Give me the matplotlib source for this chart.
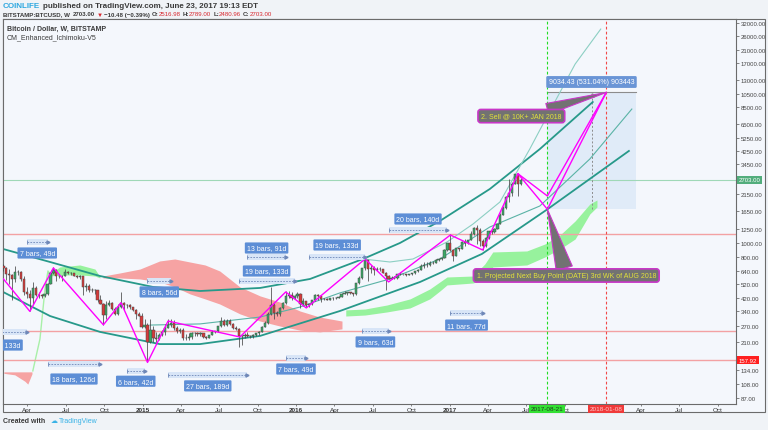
import numpy as np
import pandas as pd
import matplotlib
matplotlib.use("Agg")
import matplotlib.pyplot as plt
import matplotlib.dates as mdates
from matplotlib.patches import Rectangle
from matplotlib.ticker import FixedLocator, NullLocator, FixedFormatter

plt.rcParams["font.family"] = ["Liberation Sans", "DejaVu Sans"]

# --- weekly candles BITSTAMP:BTCUSD (W); open = previous close ---
first_week = "2014-02-03"
first_open = 700
closes = [
    670, 610, 600, 565, 630, 635, 565, 460, 445, 420, 495, 440, 440, 430, 445, 525,
    625, 650, 590, 595, 595, 635, 620, 618, 595, 585, 590, 500, 510, 478, 476, 477,
    410, 380, 320, 375, 390, 355, 325, 365, 390, 375, 378, 362, 350, 328, 318, 265,
    275, 210, 255, 225, 220, 235, 245, 262, 275, 285, 260, 248, 255, 225, 222, 226,
    240, 240, 238, 240, 228, 225, 235, 245, 248, 268, 290, 275, 290, 280, 262, 258,
    230, 230, 235, 230, 231, 233, 240, 246, 265, 285, 325, 375, 330, 325, 360, 390,
    435, 440, 420, 430,
    448, 385, 400, 375, 380, 405, 440, 430, 412, 415, 410, 417, 418, 420, 428, 450,
    455, 460, 455, 445, 530, 580, 670, 760, 665, 670, 650, 665, 660, 625, 590, 570,
    580, 575, 610, 610, 610, 605, 612, 618, 640, 655, 700, 705, 705, 735, 730, 765,
    775, 790, 890, 995,
    900, 820, 920, 915, 1010, 1000, 1050, 1150, 1270, 1235, 1025, 960, 1080, 1200,
    1180, 1245, 1350, 1550, 1740, 2050, 2200, 2540, 2950, 2516.98, 2703.00,
]
highs = [
    720, 690, 660, 610, 700, 650, 645, 590, 500, 480, 540, 510, 460, 450, 450, 530,
    630, 680, 660, 615, 600, 660, 640, 630, 625, 600, 600, 595, 530, 520, 490, 485,
    480, 440, 390, 400, 410, 395, 365, 380, 460, 395, 385, 380, 365, 355, 335, 330,
    300, 285, 300, 270, 245, 240, 255, 280, 300, 300, 295, 270, 260, 260, 238, 240,
    245, 245, 245, 245, 242, 232, 236, 252, 250, 270, 312, 300, 300, 300, 285, 272,
    260, 235, 240, 245, 235, 238, 242, 248, 270, 290, 335, 500, 390, 340, 365, 395,
    470, 470, 465, 440,
    462, 452, 420, 400, 385, 405, 445, 445, 438, 420, 422, 420, 425, 425, 430, 455,
    468, 465, 465, 455, 535, 590, 675, 780, 770, 705, 700, 680, 680, 665, 630, 600,
    590, 590, 615, 630, 615, 612, 615, 620, 645, 660, 720, 745, 740, 750, 750, 775,
    775, 795, 905, 1000,
    1150, 910, 930, 925, 1030, 1065, 1050, 1200, 1290, 1320, 1260, 1070, 1095, 1210,
    1225, 1260, 1350, 1600, 1800, 2100, 2750, 2600, 2980, 2990, 2789.00,
]
lows = [
    640, 560, 520, 410, 540, 600, 550, 440, 420, 340, 380, 430, 420, 420, 425, 440,
    525, 610, 550, 580, 550, 590, 610, 605, 590, 575, 570, 440, 470, 465, 465, 450,
    395, 380, 275, 300, 370, 350, 320, 320, 360, 345, 360, 355, 340, 300, 315, 260,
    260, 152, 205, 210, 210, 215, 230, 235, 260, 265, 255, 240, 240, 218, 215, 218,
    220, 230, 232, 232, 225, 220, 222, 233, 240, 245, 265, 270, 270, 275, 257, 255,
    195, 200, 225, 228, 225, 225, 230, 235, 245, 265, 280, 320, 300, 315, 315, 355,
    385, 420, 410, 415,
    420, 360, 370, 365, 365, 375, 400, 405, 395, 405, 405, 406, 410, 415, 420, 425,
    445, 440, 445, 435, 440, 525, 570, 655, 550, 620, 605, 640, 645, 620, 480, 565,
    565, 565, 570, 600, 600, 590, 600, 605, 615, 630, 655, 675, 690, 700, 720, 725,
    755, 770, 785, 885,
    880, 750, 815, 880, 910, 950, 990, 1040, 1140, 980, 960, 890, 935, 1060,
    1150, 1170, 1240, 1350, 1560, 1720, 1900, 2100, 2520, 2100, 2480.96,
]

# --- Ichimoku cloud edges ---
red_cloud_dates = ["2014-09-28", "2014-11-07", "2014-12-25", "2015-02-10", "2015-03-18",
                   "2015-04-23", "2015-05-29", "2015-07-03", "2015-08-20", "2015-10-07",
                   "2015-11-23", "2016-01-10", "2016-02-26", "2016-04-19"]
red_cloud_top = [594, 623, 663, 753, 777, 741, 707, 643, 500, 434, 394, 342, 311, 292]
red_cloud_bot = [576, 576, 567, 541, 500, 448, 414, 382, 327, 292, 270, 253, 246, 258]

green_cloud_dates = ["2016-04-28", "2016-06-13", "2016-08-04", "2016-09-28", "2016-11-14",
                     "2016-12-08", "2016-12-25", "2017-02-25", "2017-03-25", "2017-04-13",
                     "2017-07-03", "2017-08-15", "2017-09-20", "2017-10-26", "2017-11-30",
                     "2017-12-17"]
green_cloud_top = [348, 353, 376, 414, 484, 541, 585, 594, 718, 868, 882, 984, 1134, 1415, 1849, 1970]
green_cloud_bot = [316, 321, 337, 359, 414, 469, 516, 532, 567, 685, 707, 802, 910, 1065, 1580, 1764]

early_green_dates = ["2014-05-25", "2014-06-17", "2014-08-04", "2014-09-09", "2014-09-21"]
early_green_top = [613, 685, 707, 663, 585]
early_green_bot = [594, 604, 604, 594, 576]

early_red_dates = ["2014-02-04", "2014-03-02", "2014-03-26", "2014-04-02", "2014-04-12"]
early_red_top = [131, 131, 131, 131, 131]
early_red_bot = [128, 125, 113, 108, 127]

span_line_dates = ["2014-04-14", "2014-05-01", "2014-05-13", "2014-05-20", "2014-05-25"]
span_line_prices = [133, 220, 484, 643, 613]

# --- levels and markers ---
last_price = 2703.00
red_levels = [1150, 250, 157.92]
buy_date, buy_price = "2017-08-21", 1701.3
sell_date, sell_price = "2018-01-08", 10735.7
range_end = "2018-03-19"
range_text = "9034.43 (531.04%) 903443"

zig_dates = ["2014-02-03", "2014-04-07", "2014-06-02", "2014-09-29", "2014-11-10",
             "2015-01-12", "2015-03-02", "2015-08-20", "2015-12-07", "2016-01-25",
             "2016-06-13", "2016-08-08", "2017-01-02", "2017-03-20", "2017-06-12",
             "2017-08-21", "2018-01-08"]
zig_prices = [567, 340, 675, 275, 390, 152, 292, 227, 462, 359, 777, 541, 1134, 895,
              2980, 2098, 10735.7]
zig2_dates = ["2017-06-12", "2017-08-21", "2018-01-08"]
zig2_prices = [2980, 1701.3, 10735.7]

# --- arcs ---
arc1_dates = ["2014-02-02", "2014-05-25", "2014-09-21", "2015-01-25", "2015-05-17",
              "2015-10-07", "2016-02-03", "2016-06-08", "2016-09-04", "2016-12-08",
              "2017-04-06", "2017-08-03", "2017-12-07"]
arc1_prices = [910, 741, 594, 500, 469, 492, 567, 777, 1000, 1415, 2344, 4400, 9240]
arc2_dates = ["2014-02-02", "2014-05-25", "2014-09-21", "2015-02-10", "2015-05-17",
              "2015-10-07", "2016-04-14", "2016-10-22", "2017-03-18", "2017-08-21",
              "2018-03-03"]
arc2_prices = [462, 316, 246, 203, 203, 231, 342, 541, 841, 1701.3, 4270]
arc3_dates = ["2015-01-18", "2015-05-17", "2015-10-07", "2016-01-10", "2016-04-14",
              "2016-08-11", "2016-12-08", "2017-04-06", "2017-08-03", "2017-11-30",
              "2018-03-10"]
arc3_prices = [274, 279, 311, 364, 455, 567, 777, 1287, 1792, 3760, 8270]
arc4_dates = ["2016-06-08", "2016-08-11", "2016-10-05", "2016-12-25", "2017-02-25",
              "2017-04-30", "2017-07-10", "2017-08-27", "2017-10-26", "2017-12-26"]
arc4_prices = [777, 741, 777, 1016, 1349, 1909, 4400, 8020, 16800, 29200]

# --- bar-count measurements ---
range_labels = ["7 bars, 49d", "19 bars, 133d", "18 bars, 126d", "6 bars, 42d",
                "8 bars, 56d", "27 bars, 189d", "19 bars, 133d", "13 bars, 91d",
                "7 bars, 49d", "19 bars, 133d", "9 bars, 63d", "20 bars, 140d",
                "11 bars, 77d"]
range_starts = ["2014-03-31", "2013-11-18", "2014-05-19", "2014-11-24", "2015-01-12",
                "2015-03-02", "2015-08-17", "2015-09-07", "2015-12-07", "2016-02-01",
                "2016-06-06", "2016-08-08", "2017-01-02"]
range_bars = [7, 19, 18, 6, 8, 27, 19, 13, 7, 19, 9, 20, 11]
range_arrow_prices = [1016, 246, 148, 133, 549, 125, 549, 802, 163, 802, 249, 1228, 332]
range_label_prices = [854, 200, 117, 113, 462, 105, 643, 924, 137, 969, 210, 1460, 274]

yticks = [32000, 26000, 21000, 17000, 13000, 10500, 8500, 6500, 5250, 4250, 3450,
          2150, 1650, 1250, 1000, 800, 640, 520, 420, 340, 270, 210, 134, 108, 87]
xtick_dates = ["2014-04-01", "2014-07-01", "2014-10-01", "2015-01-01", "2015-04-01",
               "2015-07-01", "2015-10-01", "2016-01-01", "2016-04-01", "2016-07-01",
               "2016-10-01", "2017-01-01", "2017-04-01", "2017-07-01", "2017-10-01",
               "2018-04-01", "2018-07-01", "2018-10-01"]
xtick_labels = ["Apr", "Jul", "Oct", "2015", "Apr", "Jul", "Oct", "2016", "Apr", "Jul",
                "Oct", "2017", "Apr", "Jul", "Oct", "Apr", "Jul", "Oct"]

# ---------------------------------------------------------------------------
W, H = 768, 431
fig = plt.figure(figsize=(W / 100, H / 100), dpi=100, facecolor="#f0f3f7")
BG = "#f4f7fc"
DARK = "#3a3a3a"
RED = "#d8262d"

fig.patches.append(Rectangle((3 / W, 1 - 413 / H), 762 / W, 393 / H, transform=fig.transFigure,
                             facecolor=BG, edgecolor="#6b6b6b", lw=0.8, zorder=-5))
ax = fig.add_axes([3 / W, 1 - 405 / H, 733 / W, 385 / H])
ax.set_zorder(1)
ax.set_facecolor(BG)
for s in ax.spines.values():
    s.set_color("#6b6b6b")
    s.set_linewidth(0.8)

d = mdates.datestr2num

# clouds
ax.fill_between(d(red_cloud_dates), red_cloud_bot, red_cloud_top, color="#f6a3a3", lw=0, zorder=1)
ax.fill_between(d(green_cloud_dates), green_cloud_bot, green_cloud_top, color="#97f29d", lw=0, zorder=1)
ax.fill_between(d(early_green_dates), early_green_bot, early_green_top, color="#97f29d", lw=0, zorder=1)
ax.fill_between(d(early_red_dates), early_red_bot, early_red_top, color="#f6a3a3", lw=0, zorder=1)
ax.plot(d(span_line_dates), span_line_prices, color="#a8f0a8", lw=1.0, zorder=1)

# projection range box
rs, re_ = d(buy_date), d(range_end)
rm = (rs + re_) / 2
ax.fill_between([rs, re_], buy_price, sell_price, color="#dce9f8", alpha=0.8, lw=0, zorder=0.8)
ax.plot([rs, re_], [sell_price, sell_price], color="#8c8c8c", lw=0.8, zorder=2)
ax.plot([rm, rm], [buy_price, sell_price * 0.97], color="#8c8c8c", lw=0.7, ls=(0, (2, 2)), zorder=2)
ax.plot([rm], [sell_price * 0.965], marker="^", ms=2.5, color="#8c8c8c", zorder=2)
ax.text(rm, 12670, range_text, ha="center", va="center", fontsize=5, color="white", zorder=7,
        bbox=dict(boxstyle="round,pad=0.35,rounding_size=0.2", fc="#6a95d6", ec="none"))

# levels
ax.axhline(last_price, color="#9fd8b7", lw=0.8, zorder=1.5)
for lv in red_levels:
    ax.axhline(lv, color="#f3a1a3", lw=1.0, zorder=1.5)
ax.axvline(d(buy_date), color="#22dd22", lw=0.8, ls=(0, (2.5, 2)), zorder=2)
ax.axvline(d(sell_date), color="#f24848", lw=0.8, ls=(0, (2.5, 2)), zorder=2)

# arcs
ax.plot(d(arc1_dates), arc1_prices, color="#27998a", lw=1.3, zorder=2)
ax.plot(d(arc2_dates), arc2_prices, color="#27998a", lw=1.3, zorder=2)
ax.plot(d(arc3_dates), arc3_prices, color="#5ab3a6", lw=0.8, zorder=2)
ax.plot(d(arc4_dates), arc4_prices, color="#8ccfc3", lw=0.8, zorder=2)

# candles
weeks = pd.date_range(first_week, periods=len(closes), freq="7D")
xw = mdates.date2num(weeks)
c = np.array(closes, float)
o = np.array([first_open] + closes[:-1], float)
cols = np.where(c >= o, "#3aa866", "#d63b3b")
ax.vlines(xw, lows, highs, colors="#474747", lw=0.55, zorder=3)
ax.bar(xw, np.abs(c - o), bottom=np.minimum(c, o), width=5.4, color=cols,
       edgecolor="#474747", linewidth=0.35, zorder=3.1)

# zigzag
ax.plot(d(zig_dates), zig_prices, color="#ff00ff", lw=1.0, zorder=4)
ax.plot(d(zig2_dates), zig2_prices, color="#ff00ff", lw=1.0, zorder=4)

# bar-count measurements
for lab, st, nb, pa, pl in zip(range_labels, range_starts, range_bars,
                               range_arrow_prices, range_label_prices):
    s0 = d(st)
    s1 = s0 + 7 * nb
    ax.fill_between([s0, s1], pa / 1.05, pa * 1.05, color="#d8e5f7", lw=0, zorder=4.5)
    ax.plot([s0, s1], [pa, pa], color="#6f88b8", lw=0.6, ls=(0, (2, 1.5)), zorder=5)
    ax.plot([s0], [pa], marker="|", ms=3, mew=0.6, color="#6f88b8", zorder=5)
    ax.plot([s1], [pa], marker=">", ms=2.2, color="#6f88b8", zorder=5)
    ax.text((s0 + s1) / 2, pl, lab, ha="center", va="center", fontsize=5, color="white",
            zorder=6, clip_on=True,
            bbox=dict(boxstyle="round,pad=0.3,rounding_size=0.15", fc="#5d8ed6", ec="none"))

# callouts
call_kw = dict(ha="center", va="center", fontsize=5, color="#e2e23a", zorder=8,
               bbox=dict(boxstyle="round,pad=0.45,rounding_size=0.4", fc="#727272", ec="#c837c8", lw=1.2))
ax.annotate("2. Sell @ 10K+ JAN 2018", xy=(d(sell_date), sell_price),
            xytext=(d("2017-06-20"), 7400),
            arrowprops=dict(arrowstyle="wedge,tail_width=1.6,shrink_factor=0.5", fc="#727272",
                            ec="#c837c8", lw=0.8, shrinkA=0, shrinkB=0), **call_kw)
ax.annotate("1. Projected Next Buy Point (DATE) 3rd WK of AUG 2018", xy=(d(buy_date), buy_price),
            xytext=(d("2017-10-05"), 599),
            arrowprops=dict(arrowstyle="wedge,tail_width=2.4,shrink_factor=0.5", fc="#727272",
                            ec="#c837c8", lw=0.8, shrinkA=0, shrinkB=0), **call_kw)

# axes
ax.set_yscale("log")
ax.set_ylim(78.9, 34220)
ax.set_xlim(d("2014-02-02"), d("2018-11-13"))
ax.yaxis.tick_right()
ax.yaxis.set_major_locator(FixedLocator(yticks))
ax.yaxis.set_major_formatter(FixedFormatter(["%.2f" % v for v in yticks]))
ax.yaxis.set_minor_locator(NullLocator())
ax.tick_params(axis="y", length=2, width=0.5, color="#555", labelsize=4.3, pad=1.5, labelcolor="#444")
ax.xaxis.set_major_locator(FixedLocator(d(xtick_dates)))
ax.xaxis.set_major_formatter(FixedFormatter(xtick_labels))
ax.xaxis.set_minor_locator(NullLocator())
ax.tick_params(axis="x", length=1.5, width=0.5, color="#555", labelsize=4.6, pad=0.8, labelcolor="#333")
for t in ax.get_xticklabels():
    if t.get_text().isdigit():
        t.set_fontweight("bold")

ytr = ax.get_yaxis_transform()
ax.text(1.004, last_price, "%.2f" % last_price, transform=ytr, ha="left", va="center", fontsize=4.3,
        color="white", clip_on=False, zorder=9,
        bbox=dict(boxstyle="square,pad=0.25", fc="#52ad7c", ec="none"))
ax.text(1.004, red_levels[2], "%.2f" % red_levels[2], transform=ytr, ha="left", va="center",
        fontsize=4.3, color="white", clip_on=False, zorder=9,
        bbox=dict(boxstyle="square,pad=0.25", fc="#ff2020", ec="none"))
xtr = ax.get_xaxis_transform()
ax.text(d(buy_date), -0.012, buy_date, transform=xtr, ha="center", va="center", fontsize=4.6,
        color="#1f3a1f", clip_on=False, zorder=9,
        bbox=dict(boxstyle="square,pad=0.25", fc="#33e033", ec="none"))
ax.text(d(sell_date), -0.012, sell_date, transform=xtr, ha="center", va="center", fontsize=4.6,
        color="#ffc8c8", clip_on=False, zorder=9,
        bbox=dict(boxstyle="square,pad=0.25", fc="#f03a3a", ec="none"))

ax.text(4 / 733, 1 - 9 / 385, "Bitcoin / Dollar, W, BITSTAMP", transform=ax.transAxes,
        fontsize=5, fontweight="bold", color=DARK, va="center")
ax.text(4 / 733, 1 - 18 / 385, "CM_Enhanced_Ichimoku-V5", transform=ax.transAxes,
        fontsize=5, color=DARK, va="center")

# header and footer
renderer = fig.canvas.get_renderer()


def rich(x_px, y_px, parts, size, family=None):
    x = x_px
    for txt, col, weight, gap in parts:
        t = fig.text(x / W, 1 - y_px / H, txt, color=col, fontsize=size, fontweight=weight,
                     va="center", ha="left", family=family or plt.rcParams["font.family"])
        x += t.get_window_extent(renderer).width + gap


rich(3, 6, [("COINLIFE", "#2ea8e0", "bold", 2.4),
            ("published on TradingView.com, June 23, 2017 19:13 EDT", DARK, "bold", 0)], 5.8)
rich(3, 15, [("BITSTAMP:BTCUSD, W", DARK, "bold", 3.0), ("2703.00", DARK, "bold", 1.5),
             ("\u25bc", RED, "normal", 1.5), ("\u221210.48 (\u22120.39%)", DARK, "bold", 2),
             ("O:", DARK, "bold", 0), ("2516.98", RED, "normal", 2),
             ("H:", DARK, "bold", 0), ("2789.00", RED, "normal", 2),
             ("L:", DARK, "bold", 0), ("2480.96", RED, "normal", 2),
             ("C:", DARK, "bold", 0), ("2703.00", RED, "normal", 0)], 4.4,
     family=["Liberation Sans Narrow", "Liberation Sans", "DejaVu Sans"])
rich(3, 422, [("Created with", DARK, "bold", 5), ("\u2601", "#38b2e6", "normal", 2),
              ("TradingView", "#38b2e6", "normal", 0)], 5)

fig.savefig("out.png", dpi=100, facecolor=fig.get_facecolor())
